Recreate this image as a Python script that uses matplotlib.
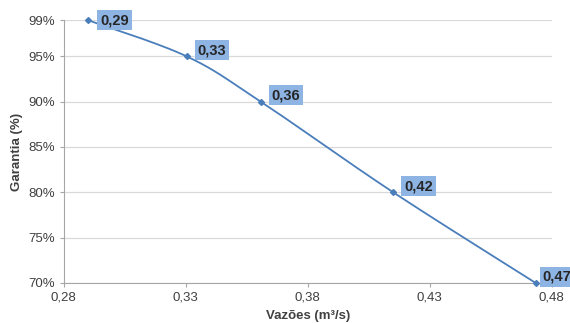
import matplotlib.pyplot as plt
import numpy as np

# data
vazoes = [0.2897, 0.3303, 0.3607, 0.4150, 0.4734]
garantia = [0.99, 0.95, 0.90, 0.80, 0.70]
rotulos = ["0,29", "0,33", "0,36", "0,42", "0,47"]
xticks = [0.28, 0.33, 0.38, 0.43, 0.48]
yticks = [0.70, 0.75, 0.80, 0.85, 0.90, 0.95, 0.99]

plt.rcParams['font.family'] = ['Liberation Sans', 'DejaVu Sans']

line_c = "#4a7ebb"
grid_c = "#d9d9d9"
txt_c = "#404040"


def smooth(x, y, n=40):
    # excel-like smoothed line (catmull-rom through the points)
    p = np.column_stack([x, y])
    p = np.vstack([p[0], p, p[-1]])
    out = []
    for i in range(1, len(p) - 2):
        p0, p1, p2, p3 = p[i - 1], p[i], p[i + 1], p[i + 2]
        t = np.linspace(0, 1, n)[:, None]
        c1 = p1 + (p2 - p0) / 6
        c2 = p2 - (p3 - p1) / 6
        seg = ((1 - t) ** 3) * p1 + 3 * ((1 - t) ** 2) * t * c1 + 3 * (1 - t) * t ** 2 * c2 + t ** 3 * p2
        out.append(seg)
    out = np.vstack(out)
    return out[:, 0], out[:, 1]


fig = plt.figure(figsize=(5.7, 3.23), dpi=100)
ax = fig.add_axes([0.112, 0.124, 0.856, 0.814])

sx, sy = smooth(np.array(vazoes), np.array(garantia))
ax.plot(sx, sy, color=line_c, lw=1.3, zorder=3, clip_on=False)
ax.plot(vazoes, garantia, ls="none", marker="D", ms=3, color=line_c, zorder=4, clip_on=False)

n = len(vazoes)
for i, (xv, yv, lab) in enumerate(zip(vazoes, garantia, rotulos)):
    if i == 0:
        off = (9, 0)
    elif i == n - 1:
        off = (5, 4.5)
    else:
        off = (8, 4.5)
    ax.annotate(lab, (xv, yv), xytext=off, textcoords="offset points",
                ha="left", va="center", fontsize=10.5, fontweight="bold", color="#262626",
                bbox=dict(boxstyle="square,pad=0.2", fc="#8eb4e3", ec="none"), zorder=5)

ax.set_xlim(0.28, 0.48)
ax.set_ylim(0.70, 0.99)
ax.set_xticks(xticks)
ax.set_xticklabels([("%.2f" % v).replace(".", ",") for v in xticks])
ax.set_yticks(yticks)
ax.set_yticklabels(["%d%%" % round(v * 100) for v in yticks])
ax.tick_params(labelsize=9.5, colors=txt_c, length=3, color="#a6a6a6")
ax.grid(axis="y", color=grid_c, lw=0.9)
ax.set_axisbelow(True)
for s in ["top", "right"]:
    ax.spines[s].set_visible(False)
for s in ["left", "bottom"]:
    ax.spines[s].set_color("#a6a6a6")

ax.set_xlabel("Vazões (m³/s)", fontsize=9.5, fontweight="bold", color=txt_c, labelpad=4)
ax.set_ylabel("Garantia (%)", fontsize=9.5, fontweight="bold", color=txt_c, labelpad=4)

fig.savefig("out.png", dpi=100)
